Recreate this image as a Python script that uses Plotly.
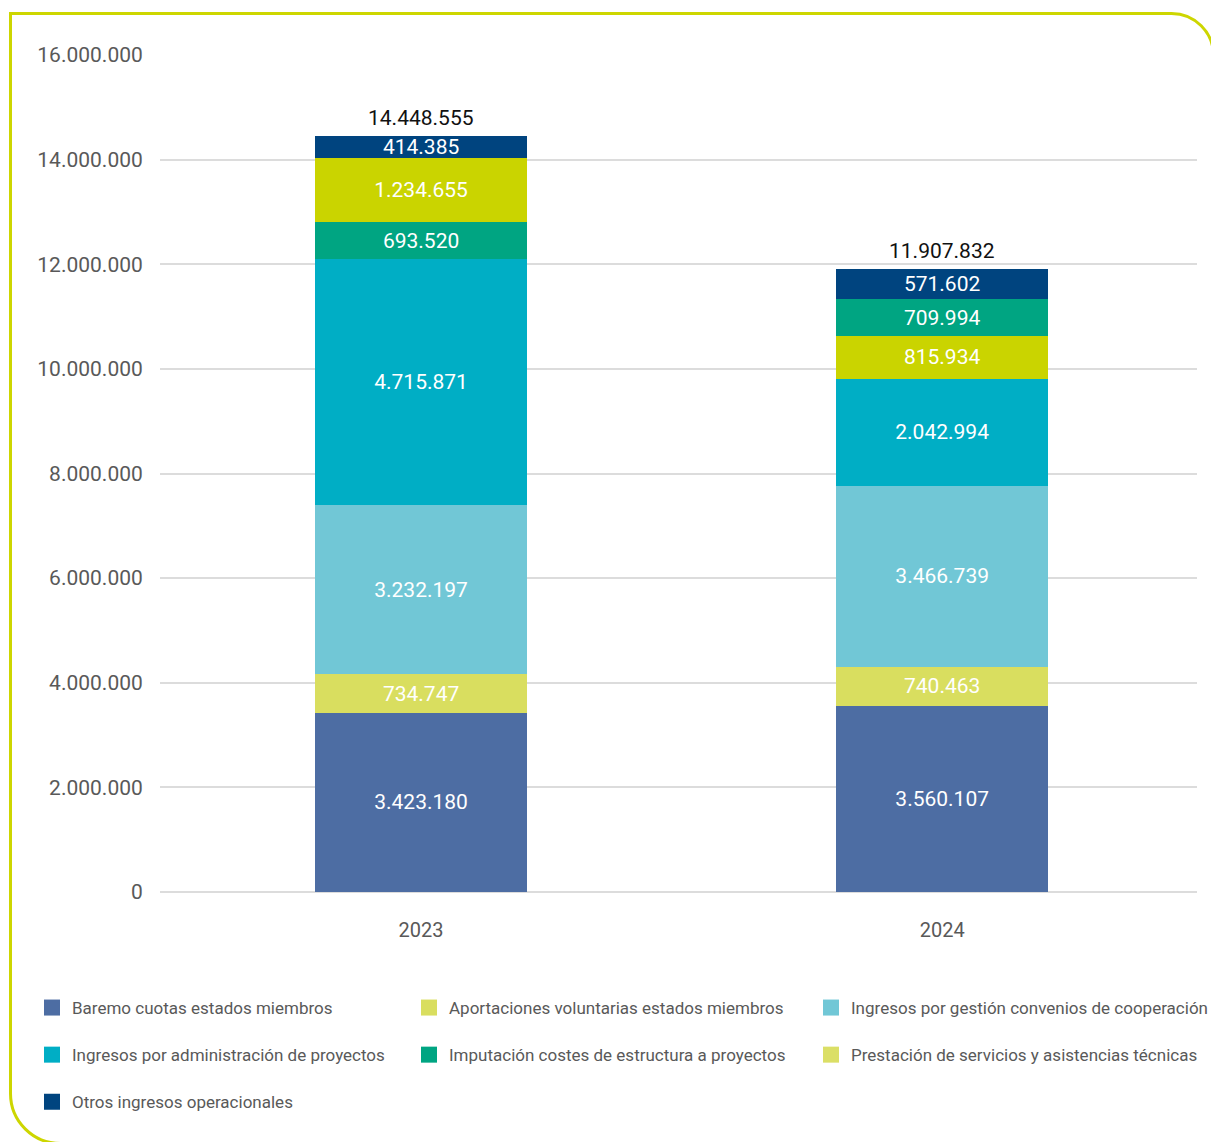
import plotly.graph_objects as go

# --- data -------------------------------------------------------------
years = ["2023", "2024"]
baremo = [3423180, 3560107]
aportaciones = [734747, 740463]
convenios = [3232197, 3466739]
administracion = [4715871, 2042994]
imputacion = [693520, 709994]
prestacion = [1234655, 815934]
otros = [414385, 571602]
totales = [14448555, 11907832]

y_ticks = [0, 2000000, 4000000, 6000000, 8000000, 10000000, 12000000, 14000000, 16000000]

names = {
    "baremo": "Baremo cuotas estados miembros",
    "aport": "Aportaciones voluntarias estados miembros",
    "conv": "Ingresos por gestión convenios de cooperación",
    "admin": "Ingresos por administración de proyectos",
    "imput": "Imputación costes de estructura a proyectos",
    "prest": "Prestación de servicios y asistencias técnicas",
    "otros": "Otros ingresos operacionales",
}
colors = {
    "baremo": "#4d6da3",
    "aport": "#d9de5f",
    "conv": "#71c7d6",
    "admin": "#00aec5",
    "imput": "#00a582",
    "prest": "#cad400",
    "otros": "#00447f",
}
legend_colors = dict(colors, prest="#dbdf66")

# --- page geometry ----------------------------------------------------
W, H = 1211, 1142
ML, MR, MT, MB = 160, 14, 55, 250
PW, PH = W - ML - MR, H - MT - MB


def px_x(p):
    return (p - ML) / PW


def px_y(p):
    return (H - MB - p) / PH


FONT = "Roboto"
GREY = "#595959"

fig = go.Figure()


def add_segment(key, x, y):
    fig.add_trace(go.Bar(
        x=x, y=y, name=names[key], legendgroup=key, showlegend=False,
        marker=dict(color=colors[key], line=dict(width=0)),
        texttemplate="%{y:,.0f}", textposition="inside",
        insidetextanchor="middle", textangle=0,
        textfont=dict(color="white", size=21, family=FONT),
        hovertemplate="%{x}<br>" + names[key] + ": %{y:,.0f}<extra></extra>",
    ))


# stacking order (bottom to top); the 2023 and 2024 columns differ above
# "administración", so prestación is split into one trace per year
add_segment("baremo", years, baremo)
add_segment("aport", years, aportaciones)
add_segment("conv", years, convenios)
add_segment("admin", years, administracion)
add_segment("prest", [years[1]], [prestacion[1]])
add_segment("imput", years, imputacion)
add_segment("prest", [years[0]], [prestacion[0]])
add_segment("otros", years, otros)

# legend entries (square swatches), laid out as three columns
columns = {
    "legend": ["baremo", "admin", "otros"],
    "legend2": ["aport", "imput"],
    "legend3": ["conv", "prest"],
}
for leg, keys in columns.items():
    for key in keys:
        fig.add_trace(go.Scatter(
            x=[None], y=[None], mode="markers", name=names[key],
            legendgroup=key, legend=leg, showlegend=True, hoverinfo="skip",
            marker=dict(symbol="square", size=16, color=legend_colors[key],
                        line=dict(width=0)),
        ))

# totals above each column (x given as the category index)
for i, tot in enumerate(totales):
    fig.add_annotation(
        x=i, y=tot, text=f"{tot:,}".replace(",", "."),
        showarrow=False, yanchor="bottom", yshift=4,
        font=dict(color="#111111", size=21, family=FONT),
    )

# frame: square top-left corner, rounded top-right and bottom-left corners
k = 0.5523
top, left, right, bottom = 13.5, 10.5, 1213.5, 1143.5
r1, r2 = 42, 50
path = (
    f"M {px_x(left + r2)},{px_y(bottom)} "
    f"C {px_x(left + r2 - k * r2)},{px_y(bottom)} {px_x(left)},{px_y(bottom - r2 + k * r2)} {px_x(left)},{px_y(bottom - r2)} "
    f"L {px_x(left)},{px_y(top)} "
    f"L {px_x(right - r1)},{px_y(top)} "
    f"C {px_x(right - r1 + k * r1)},{px_y(top)} {px_x(right)},{px_y(top + r1 - k * r1)} {px_x(right)},{px_y(top + r1)} "
    f"L {px_x(right)},{px_y(bottom + 40)}"
)
fig.add_shape(type="path", path=path, xref="paper", yref="paper",
              line=dict(color="#cdd600", width=3), layer="below")

legend_common = dict(
    orientation="v", xanchor="left", yanchor="top",
    bgcolor="rgba(0,0,0,0)", borderwidth=0,
    font=dict(size=17, color=GREY, family=FONT),
    traceorder="grouped", tracegroupgap=22,
    itemclick="toggle",
)
legend_top = px_y(990)

fig.update_layout(
    width=W, height=H,
    margin=dict(l=ML, r=MR, t=MT, b=MB, autoexpand=False),
    paper_bgcolor="white", plot_bgcolor="white",
    barmode="stack", bargap=0.593,
    separators=",.",
    font=dict(family=FONT, color=GREY, size=20),
    uniformtext=dict(minsize=21, mode="show"),
    xaxis=dict(
        type="category", categoryorder="array", categoryarray=years,
        range=[-0.501, 1.489],
        showgrid=False, showline=False, zeroline=False,
        ticks="outside", ticklen=20, tickcolor="rgba(0,0,0,0)",
        tickfont=dict(size=20, color=GREY, family=FONT),
    ),
    yaxis=dict(
        range=[0, 16000000], tickvals=y_ticks, tickformat=",.0f",
        showgrid=True, gridcolor="#dcdcdc", gridwidth=2,
        zeroline=True, zerolinecolor="#dcdcdc", zerolinewidth=2,
        showline=False,
        ticks="outside", ticklen=12, tickcolor="rgba(0,0,0,0)",
        tickfont=dict(size=21, color=GREY, family=FONT),
    ),
    legend=dict(legend_common, x=px_x(32), y=legend_top),
    legend2=dict(legend_common, x=px_x(409), y=legend_top),
    legend3=dict(legend_common, x=px_x(811), y=legend_top),
    showlegend=True,
)

fig.write_html("out.html")
